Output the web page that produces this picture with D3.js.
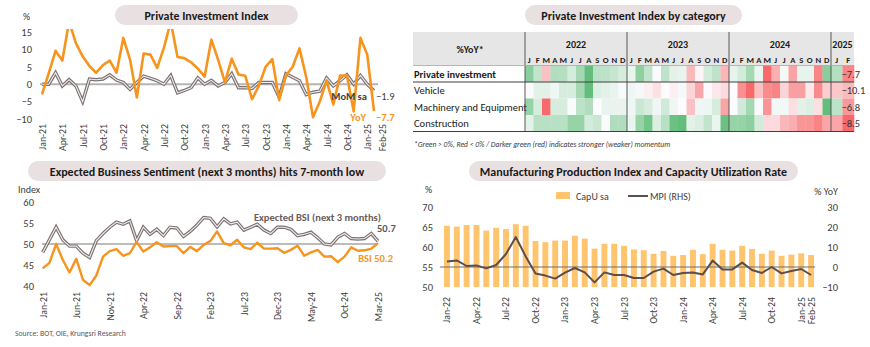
<!DOCTYPE html>
<html>
<head>
<meta charset="utf-8">
<script src="https://cdn.jsdelivr.net/npm/d3@7"></script>
<style>
  body { margin: 0; background: #fff; }
  svg { font-family: Carlito, Lato, sans-serif; }
</style>
</head>
<body>
<svg id="chart" width="870" height="347"></svg>
<script>
// ---------- data ----------
// private investment index, Jan-21 .. Feb-25
const piStart = new Date(2021, 0, 1)
const piYoY = [-2.9, 3.2, 9.6, 6.8, 18, 11.8, 8, 5.2, 3.3, 5.5, 6.8, 3.3,
  13.3, 7, -3.8, 8.8, 8.5, 4.7, 10.5, 18, 7.8, 7.5, 6.3, 4.5,
  2.2, 12.8, 7, 0.5, 7.3, 2.8, 2.4, -4.3, -0.5, 5, 7.2, -4.5,
  2.5, 5, 10.3, 2, -9.5, -5, 1, -5.8, 2.5, 2.5, -7.8, 13.3,
  8.5, -7.7]
const piMoM = [0, 0, 3.3, -0.5, 1.3, -0.5, -5, 1.5, 1.3, 1.5, 2.7, 1.2,
  0.5, -1.5, 0.5, 2.3, 1.7, 1, 0, 2.5, -2.5, -1.8, -1, 1.8,
  0, 1.1, -0.5, 0.5, 3, -1, -1, -1.2, 0.5, 0.5, 0.5, -3.7,
  3, 2, 1, -3, -2.3, -2, 1.8, -0.5, 1, 2.7, 0, 2.5,
  0, -1.9]
const piTicks = [-10, -5, 0, 5, 10, 15]

// heatmap by category, Jan-22 .. Feb-25 (%YoY)
const hmYears = [2022, 2023, 2024, 2025]
const hmLetters = ['J', 'F', 'M', 'A', 'M', 'J', 'J', 'A', 'S', 'O', 'N', 'D']
const hmRows = ['Private investment', 'Vehicle', 'Machinery and Equipment', 'Construction']
const hmPrivate = piYoY.slice(12)
const hmVehicle = [-0.5, 2, 2, 1, 3, 3, 7, 12, 2.5, 2, 1.5, 0.3,
  1, 0.5, -2, -4, 0, -2, 0.5, -6, -13, -0.5, -3, -5,
  0, -16, -22, -9, -17, -18, -6, -14, -14, -3, -17, -7,
  -8, -10.1]
const hmMachinery = [8, 3, -10, 3, 3, 0.3, 5, 6, 0, 1.5, 1.5, 1.5,
  1, 4, 3, 1, 3.5, 1, 0, -4, 1, 1.2, 3, -6,
  0.2, 3.5, 7, 0.3, -7, 0.8, 0.8, -2, 2, 2.5, -2, 12,
  5, -6.8]
const hmConstruction = [1.5, 4, 4, 4, 4, 6, 6, 2.5, 3, 0.2, 4.5, 4.5,
  1, 6, 8, 2, 4, 8.5, 9, 1.5, 2, 3.5, 1, 8.5,
  6, 6, 6.5, 2.5, -2, -2, -4, -4.5, -6, -6, -7, -5,
  -5, -8.5]

// business sentiment, Jan-21 .. Mar-25
const bsiStart = new Date(2021, 0, 1)
const bsiExpected = [48, 51, 54, 51, 49.5, 49.5, 47.8, 46.8, 50.8, 52.5, 54, 55.2,
  54.7, 55.5, 50.8, 54, 52.3, 53.5, 52, 54, 53.8, 51.8, 53, 54.5,
  56.3, 56.1, 54.1, 56, 54.8, 55.2, 53.3, 54, 54.7, 53.3, 52.5, 54,
  54, 53.5, 52, 52.3, 52.8, 51.5, 50, 49.8, 51.6, 52.5, 51.3, 51.2,
  51.3, 52.5, 50.7]
const bsiCurrent = [44.2, 45.5, 50, 46.2, 43.2, 46.5, 41.5, 40.2, 42.5, 47, 48.3, 48.8,
  47.2, 47.8, 50.5, 48.2, 49.2, 50.4, 49.4, 49.5, 49.5, 47.8, 49.3, 48.3,
  49.8, 50.7, 53, 50.2, 49.7, 51, 49.2, 48.8, 50.3, 48.9, 48.9, 49,
  47.9, 48.6, 49.6, 47.2, 48, 48.6, 47, 47.1, 45.7, 47, 49.2, 48.4,
  48.5, 48.9, 50.2]
const bsiTicks = [40, 45, 50, 55, 60]

// manufacturing, Jan-22 .. Feb-25
const mfgStart = new Date(2022, 0, 1)
const capU = [65.3, 65.1, 65.5, 65.5, 64.1, 64.8, 64.5, 65.7, 65.3, 61.5, 61.2, 61.6,
  61.6, 62.8, 62.1, 59.6, 60.8, 60.8, 60.3, 59.4, 59.2, 58.3, 59, 57.8,
  58, 59.3, 58.2, 60.8, 59.3, 59.1, 60.3, 59.5, 58.3, 59.1, 57.8, 58.1,
  58.4, 58]
const mpi = [2.7, 3.3, 0.5, 0.8, -0.7, 1, 6.5, 15, 5.3, -3.3, -4.3, -5.8,
  -2.8, -0.5, -2.7, -7.7, -2.7, -4, -4, -5.5, -5.5, -2.3, -0.8, -4,
  -3, -2.7, -3.7, 3.2, -1.2, -1.2, 2.2, -1.5, -3, 0, -3.2, -2,
  -1, -4]
const capTicks = [50, 55, 60, 65, 70]
const mpiTicks = [-10, 0, 10, 20, 30]

// ---------- setup ----------
const svg = d3.select('#chart')
const fmt = d3.timeFormat('%b-%y')
const orange = '#f7941d'
const textCol = '#404040'

function pill(cx, y, w, label) {
  svg.append('rect')
    .attr('x', cx - w / 2).attr('y', y)
    .attr('width', w).attr('height', 20)
    .attr('rx', 10)
    .attr('fill', '#e9e1e1')
  svg.append('text')
    .attr('x', cx).attr('y', y + 14.5)
    .attr('text-anchor', 'middle')
    .attr('font-weight', 'bold')
    .attr('font-size', 12)
    .attr('fill', '#1a1a1a')
    .text(label)
}

// rotated month labels along the bottom
function monthAxis(scale, ticks, start, yPos) {
  const g = svg.append('g')
    .attr('transform', `translate(0,${yPos})`)
    .call(d3.axisBottom(scale).tickValues(ticks).tickSize(0)
      .tickFormat(i => fmt(d3.timeMonth.offset(start, i))))
  g.select('.domain').remove()
  g.selectAll('text')
    .attr('transform', 'rotate(-90)')
    .attr('x', -3).attr('y', 0).attr('dy', '0.35em')
    .attr('text-anchor', 'end')
    .attr('font-size', 9.8)
    .attr('fill', textCol)
    .style('font-family', 'Carlito, Lato, sans-serif')
  return g
}

function valueAxis(axis, xPos, anchor) {
  const g = svg.append('g')
    .attr('transform', `translate(${xPos},0)`)
    .call(axis.tickSize(0).tickPadding(0))
  g.select('.domain').remove()
  g.selectAll('text')
    .attr('font-size', 10.5)
    .attr('fill', textCol)
    .attr('text-anchor', anchor)
    .style('font-family', 'Carlito, Lato, sans-serif')
  return g
}

// compound grey line: dark outer stroke with a light core
function doubleLine(g, data, line) {
  g.append('path').datum(data).attr('d', line)
    .attr('fill', 'none').attr('stroke', '#7d7272').attr('stroke-width', 3.4)
  g.append('path').datum(data).attr('d', line)
    .attr('fill', 'none').attr('stroke', '#efeded').attr('stroke-width', 1.1)
}

// ---------- panel 1: private investment index ----------
pill(206.5, 5, 183, 'Private Investment Index')

const x1 = d3.scaleLinear().domain([0, piYoY.length - 1]).range([42, 374])
const y1 = d3.scaleLinear().domain([-10, 15]).range([119, 32])

svg.append('text').attr('x', 23).attr('y', 20).attr('font-size', 10).attr('fill', textCol).text('%')
valueAxis(d3.axisLeft(y1).tickValues(piTicks), 32, 'end')

svg.append('line')
  .attr('x1', 40).attr('x2', 378)
  .attr('y1', y1(0)).attr('y2', y1(0))
  .attr('stroke', '#b4b4b4').attr('stroke-width', 2)

svg.append('clipPath').attr('id', 'clip1')
  .append('rect').attr('x', 30).attr('y', 29).attr('width', 360).attr('height', 100)

const p1 = svg.append('g').attr('clip-path', 'url(#clip1)')
const line1 = d3.line().x((d, i) => x1(i)).y(d => y1(d))
doubleLine(p1, piMoM, line1)
p1.append('path').datum(piYoY).attr('d', line1)
  .attr('fill', 'none').attr('stroke', orange).attr('stroke-width', 2.6)
  .attr('stroke-linejoin', 'round')

const lastI = piYoY.length - 1
svg.append('text').attr('x', x1(lastI) - 7).attr('y', y1(piMoM[lastI]) + 9.5)
  .attr('text-anchor', 'end').attr('font-size', 10.5).attr('font-weight', 'bold')
  .attr('fill', '#404040').text('MoM sa')
svg.append('text').attr('x', x1(lastI) + 2).attr('y', y1(piMoM[lastI]) + 9.5)
  .attr('font-size', 10.5).attr('fill', '#404040').text(d3.format('.1f')(piMoM[lastI]))
svg.append('text').attr('x', x1(lastI) - 8).attr('y', y1(piYoY[lastI]) + 10)
  .attr('text-anchor', 'end').attr('font-size', 10.5).attr('font-weight', 'bold')
  .attr('fill', orange).text('YoY')
svg.append('text').attr('x', x1(lastI) + 2).attr('y', y1(piYoY[lastI]) + 10)
  .attr('font-size', 10.5).attr('font-weight', 'bold')
  .attr('fill', orange).text(d3.format('.1f')(piYoY[lastI]))

const piXTicks = d3.range(0, piYoY.length, 3).concat([lastI])
const ax1 = monthAxis(x1, piXTicks, piStart, 121)
// the last month sits right next to Jan-25, push its label clear of it
ax1.selectAll('.tick').filter(d => d === lastI).select('text').attr('dy', '1.2em')

// ---------- panel 2: heatmap by category ----------
pill(633.5, 5, 217, 'Private Investment Index by category')

const hmData = [hmPrivate, hmVehicle, hmMachinery, hmConstruction]
const fullCols = d3.scaleLinear().domain([0, 36]).range([525, 831])
const tailCols = d3.scaleBand().domain([36, 37]).range([831, 854])
const colX = i => i < 36 ? fullCols(i) : tailCols(i)
const colW = i => i < 36 ? fullCols(1) - fullCols(0) : tailCols.bandwidth()
const rowY = d3.scaleBand().domain(hmRows).range([65.5, 131.5])

// header band
svg.append('rect').attr('x', 413).attr('y', 32).attr('width', 441).attr('height', 33.5)
  .attr('fill', '#e7e6e6')

hmData.forEach((vals, r) => {
  const color = d3.scaleLinear()
    .domain([d3.min(vals), 0, d3.max(vals)])
    .range(['#f8696b', '#fcfcff', '#63be7b'])
  svg.append('g').selectAll('rect')
    .data(vals)
    .join('rect')
      .attr('x', (d, i) => colX(i))
      .attr('y', rowY(hmRows[r]))
      .attr('width', (d, i) => colW(i) + 0.3)
      .attr('height', rowY.bandwidth())
      .attr('fill', d => color(d))
  svg.append('text')
    .attr('x', 414).attr('y', rowY(hmRows[r]) + rowY.bandwidth() / 2 + 4)
    .attr('font-size', 10.5)
    .attr('font-weight', r === 0 ? 'bold' : 'normal')
    .attr('fill', '#1a1a1a')
    .text(hmRows[r])
  const last = vals.length - 1
  svg.append('text')
    .attr('x', colX(last) - 1).attr('y', rowY(hmRows[r]) + rowY.bandwidth() / 2 + 4)
    .attr('font-size', 10.5).attr('fill', '#333')
    .text(d3.format('.1f')(vals[last]))
})

// header text
svg.append('text').attr('x', 470).attr('y', 53).attr('text-anchor', 'middle')
  .attr('font-size', 10).attr('font-weight', 'bold').attr('fill', '#1a1a1a').text('%YoY*')
hmYears.forEach((yr, k) => {
  const a = colX(k * 12)
  const b = k < 3 ? colX(k * 12 + 12) : 854
  svg.append('text').attr('x', (a + b) / 2).attr('y', 47.5).attr('text-anchor', 'middle')
    .attr('font-size', 10).attr('font-weight', 'bold').attr('fill', '#1a1a1a').text(yr)
})
hmPrivate.forEach((d, i) => {
  svg.append('text').attr('x', colX(i) + colW(i) / 2).attr('y', 63)
    .attr('text-anchor', 'middle').attr('font-size', 8.6).attr('font-weight', 'bold')
    .attr('fill', '#1a1a1a').text(hmLetters[i % 12])
})

// grid lines
;[525, 627, 729, 831].forEach(x => {
  svg.append('line').attr('x1', x).attr('x2', x).attr('y1', 32).attr('y2', 131.5)
    .attr('stroke', '#595959').attr('stroke-width', 1)
})
svg.append('line').attr('x1', 413).attr('x2', 854).attr('y1', 65.5).attr('y2', 65.5)
  .attr('stroke', '#a6a6a6').attr('stroke-width', 0.8)
svg.append('line').attr('x1', 413).attr('x2', 854).attr('y1', rowY(hmRows[1])).attr('y2', rowY(hmRows[1]))
  .attr('stroke', '#404040').attr('stroke-width', 1.2)
svg.append('line').attr('x1', 413).attr('x2', 854).attr('y1', 131.5).attr('y2', 131.5)
  .attr('stroke', '#404040').attr('stroke-width', 1.2)

svg.append('text').attr('x', 414).attr('y', 146.5)
  .attr('font-size', 7.6).attr('font-style', 'italic').attr('fill', '#404040')
  .text('*Green > 0%, Red < 0% / Darker green (red) indicates stronger (weaker) momentum')

// ---------- panel 3: business sentiment ----------
pill(207, 161, 358, 'Expected Business Sentiment (next 3 months) hits 7-month low')

const x3 = d3.scaleLinear().domain([0, bsiExpected.length - 1]).range([42.7, 378])
const y3 = d3.scaleLinear().domain([40, 60]).range([286, 202])

svg.append('text').attr('x', 18).attr('y', 193).attr('font-size', 10).attr('fill', textCol).text('Index')
valueAxis(d3.axisLeft(y3).tickValues(bsiTicks), 34, 'end')

svg.append('line').attr('x1', 42).attr('x2', 378)
  .attr('y1', y3(50)).attr('y2', y3(50))
  .attr('stroke', '#a6a6a6').attr('stroke-width', 1.5)

const line3 = d3.line().x((d, i) => x3(i)).y(d => y3(d))
const p3 = svg.append('g')
doubleLine(p3, bsiExpected, line3)
p3.append('path').datum(bsiCurrent).attr('d', line3)
  .attr('fill', 'none').attr('stroke', orange).attr('stroke-width', 2.4)
  .attr('stroke-linejoin', 'round')

const last3 = bsiExpected.length - 1
svg.append('text').attr('x', 381).attr('y', 221).attr('text-anchor', 'end')
  .attr('font-size', 10.5).attr('font-weight', 'bold').attr('fill', '#6b5b5b')
  .text('Expected BSI (next 3 months)')
svg.append('text').attr('x', x3(last3) - 1).attr('y', y3(bsiExpected[last3]) - 9)
  .attr('font-size', 10.5).attr('font-weight', 'bold').attr('fill', '#595959')
  .text(d3.format('.1f')(bsiExpected[last3]))
svg.append('text').attr('x', 393).attr('y', y3(bsiCurrent[last3]) + 19)
  .attr('text-anchor', 'end').attr('font-size', 10.5).attr('font-weight', 'bold').attr('fill', orange)
  .text('BSI ' + d3.format('.1f')(bsiCurrent[last3]))

monthAxis(x3, d3.range(0, bsiExpected.length, 5), bsiStart, 289)

svg.append('text').attr('x', 15).attr('y', 336).attr('font-size', 7.7).attr('fill', '#595959')
  .text('Source: BOT, OIE, Krungsri Research')

// ---------- panel 4: manufacturing production and capacity utilization ----------
pill(633.5, 161, 329, 'Manufacturing Production Index and Capacity Utilization Rate')

const x4 = d3.scaleBand().domain(d3.range(capU.length)).range([443, 815])
  .paddingInner(0.4).paddingOuter(0.1)
const y4 = d3.scaleLinear().domain([50, 70]).range([287, 207])
const y4r = d3.scaleLinear().domain([-10, 30]).range([287, 207])

svg.append('text').attr('x', 425).attr('y', 193).attr('font-size', 10).attr('fill', textCol).text('%')
svg.append('text').attr('x', 838).attr('y', 195).attr('text-anchor', 'end')
  .attr('font-size', 10).attr('fill', textCol).text('% YoY')
valueAxis(d3.axisLeft(y4).tickValues(capTicks), 433, 'end')
valueAxis(d3.axisRight(y4r).tickValues(mpiTicks), 838, 'end')

svg.append('g').selectAll('rect')
  .data(capU)
  .join('rect')
    .attr('x', (d, i) => x4(i))
    .attr('y', d => y4(d))
    .attr('width', x4.bandwidth())
    .attr('height', d => y4(50) - y4(d))
    .attr('fill', '#ffc46e')

svg.append('line').attr('x1', 440).attr('x2', 815)
  .attr('y1', y4r(0)).attr('y2', y4r(0))
  .attr('stroke', '#6f6f6f').attr('stroke-width', 1)

svg.append('path').datum(mpi)
  .attr('d', d3.line().x((d, i) => x4(i) + x4.bandwidth() / 2).y(d => y4r(d)))
  .attr('fill', 'none').attr('stroke', '#5a4e4f').attr('stroke-width', 2)
  .attr('stroke-linejoin', 'round')

// legend
svg.append('rect').attr('x', 556).attr('y', 192).attr('width', 14).attr('height', 7).attr('fill', '#ffc46e')
svg.append('text').attr('x', 576).attr('y', 199.5).attr('font-size', 10).attr('fill', textCol).text('CapU sa')
svg.append('line').attr('x1', 628).attr('x2', 648).attr('y1', 196).attr('y2', 196)
  .attr('stroke', '#5a4e4f').attr('stroke-width', 2)
svg.append('text').attr('x', 650).attr('y', 199.5).attr('font-size', 10).attr('fill', textCol).text('MPI (RHS)')

monthAxis(x4, d3.range(0, capU.length, 3).concat([capU.length - 1]), mfgStart, 294)
</script>
</body>
</html>
